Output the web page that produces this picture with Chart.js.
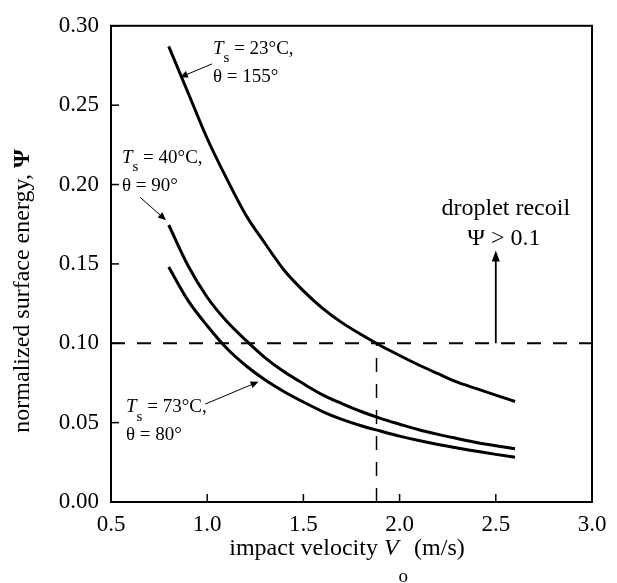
<!DOCTYPE html>
<html>
<head>
<meta charset="utf-8">
<script src="https://cdn.jsdelivr.net/npm/chart.js@4"></script>
<style>
  html, body { margin: 0; padding: 0; background: #fff; }
  #wrap { width: 617px; height: 583px; }
</style>
</head>
<body>
<div id="wrap"><canvas id="chart" width="617" height="583"></canvas></div>
<script>
// impact velocity V_o (m/s)
const velocity = [0.8, 0.9, 1.0, 1.1, 1.2, 1.3, 1.4, 1.5, 1.6, 1.7, 1.8, 1.9, 2.0, 2.1, 2.2, 2.3, 2.4, 2.5, 2.6];
// normalized surface energy for each surface
const psi23 = [0.287, 0.258, 0.229, 0.204, 0.181, 0.163, 0.146, 0.133, 0.122, 0.113, 0.1055, 0.0986, 0.0923, 0.0863, 0.0808, 0.0755, 0.0714, 0.0673, 0.0633];
const psi40 = [0.1745, 0.149, 0.129, 0.114, 0.102, 0.091, 0.082, 0.0745, 0.0675, 0.062, 0.057, 0.0527, 0.049, 0.0455, 0.0426, 0.040, 0.0375, 0.0354, 0.0335];
const psi73 = [0.148, 0.127, 0.111, 0.097, 0.086, 0.077, 0.0695, 0.063, 0.057, 0.052, 0.048, 0.0447, 0.0415, 0.0387, 0.0362, 0.034, 0.032, 0.030, 0.0282];
// recoil threshold and velocity where the 23°C curve crosses it
const thresholdPsi = 0.1;
const criticalVelocity = 1.88;
const xRange = [0.5, 3.0];
const yRange = [0, 0.3];

const serif = '"Liberation Serif", "DejaVu Serif", serif';

// text with italic / subscript / bold parts
function richText(ctx, parts, x, y, size, align, subShift) {
  const shift = subShift || 0.5;
  const fontFor = p => {
    const s = p.sub ? Math.round(size * 0.8) : size;
    return (p.i ? 'italic ' : '') + (p.b ? 'bold ' : '') + s + 'px ' + serif;
  };
  let w = 0;
  parts.forEach(p => { ctx.font = fontFor(p); w += ctx.measureText(p.t).width; });
  let cx = align === 'center' ? x - w / 2 : x;
  ctx.textBaseline = 'middle';
  ctx.textAlign = 'left';
  parts.forEach(p => {
    ctx.font = fontFor(p);
    ctx.fillText(p.t, cx, p.sub ? y + size * shift : y);
    cx += ctx.measureText(p.t).width;
  });
}

function arrow(ctx, x1, y1, x2, y2, len, half, width) {
  const a = Math.atan2(y2 - y1, x2 - x1);
  ctx.lineWidth = width;
  ctx.beginPath();
  ctx.moveTo(x1, y1);
  ctx.lineTo(x2 - Math.cos(a) * len * 0.8, y2 - Math.sin(a) * len * 0.8);
  ctx.stroke();
  ctx.beginPath();
  ctx.moveTo(x2, y2);
  ctx.lineTo(x2 - Math.cos(a) * len - Math.sin(a) * half, y2 - Math.sin(a) * len + Math.cos(a) * half);
  ctx.lineTo(x2 - Math.cos(a) * len + Math.sin(a) * half, y2 - Math.sin(a) * len - Math.cos(a) * half);
  ctx.closePath();
  ctx.fill();
}

const decorations = {
  id: 'decorations',
  afterDatasetsDraw(chart) {
    const { ctx, chartArea: ca, scales: { x, y } } = chart;
    const px = v => x.getPixelForValue(v);
    const py = v => y.getPixelForValue(v);
    ctx.save();
    ctx.strokeStyle = '#000';
    ctx.fillStyle = '#000';

    // ram och inåtriktade ticks
    ctx.lineWidth = 2;
    ctx.strokeRect(ca.left, ca.top, ca.right - ca.left, ca.bottom - ca.top);
    ctx.lineWidth = 1.5;
    x.ticks.forEach(t => {
      const p = px(t.value);
      ctx.beginPath(); ctx.moveTo(p, ca.bottom); ctx.lineTo(p, ca.bottom - 8); ctx.stroke();
    });
    y.ticks.forEach(t => {
      const p = py(t.value);
      ctx.beginPath(); ctx.moveTo(ca.left, p); ctx.lineTo(ca.left + 8, p); ctx.stroke();
    });

    // recoil arrow
    arrow(ctx, px(2.5), py(thresholdPsi), px(2.5), py(0.1585), 11, 4, 1.8);
    richText(ctx, [{ t: 'droplet recoil' }], px(2.552), py(0.1846), 24, 'center');
    richText(ctx, [{ t: 'Ψ > 0.1' }], px(2.542), py(0.1658), 24, 'center');

    // curve labels
    richText(ctx, [{ t: 'T', i: true }, { t: 's', sub: true }, { t: ' = 23°C,' }], px(1.03), py(0.2856), 19, 'left');
    richText(ctx, [{ t: 'θ = 155°' }], px(1.03), py(0.268), 19, 'left');
    arrow(ctx, px(1.025), py(0.276), px(0.858), py(0.2675), 8, 3.5, 1);

    richText(ctx, [{ t: 'T', i: true }, { t: 's', sub: true }, { t: ' = 40°C,' }], px(0.557), py(0.217), 19, 'left');
    richText(ctx, [{ t: 'θ = 90°' }], px(0.557), py(0.199), 19, 'left');
    arrow(ctx, px(0.651), py(0.192), px(0.786), py(0.1775), 8, 3.5, 1);

    richText(ctx, [{ t: 'T', i: true }, { t: 's', sub: true }, { t: ' = 73°C,' }], px(0.578), py(0.0596), 19, 'left');
    richText(ctx, [{ t: 'θ = 80°' }], px(0.578), py(0.042), 19, 'left');
    arrow(ctx, px(0.99), py(0.0617), px(1.267), py(0.0758), 8, 3.5, 1);

    // axeltitlar
    richText(ctx, [{ t: 'impact velocity ' }, { t: 'V', i: true }, { t: 'o', sub: true }, { t: ' (m/s)' }], 347, 549, 24, 'center', 1.15);
    ctx.translate(23, 291);
    ctx.rotate(-Math.PI / 2);
    richText(ctx, [{ t: 'normalized surface energy, ' }, { t: 'Ψ', b: true }], 0, 0, 24, 'center');
    ctx.restore();
  }
};

const curve = (vals) => velocity.map((v, i) => ({ x: v, y: vals[i] }));
const solid = { borderColor: '#000', borderWidth: 3, pointRadius: 0, cubicInterpolationMode: 'monotone', fill: false };
const dashed = { borderColor: '#000', borderWidth: 2, pointRadius: 0, borderDash: [14, 12], fill: false };

new Chart(document.getElementById('chart'), {
  type: 'line',
  data: {
    datasets: [
      { ...solid, label: 'Ts = 23°C, θ = 155°', data: curve(psi23) },
      { ...solid, label: 'Ts = 40°C, θ = 90°', data: curve(psi40) },
      { ...solid, label: 'Ts = 73°C, θ = 80°', data: curve(psi73) },
      { ...dashed, label: 'threshold', data: [{ x: xRange[0], y: thresholdPsi }, { x: xRange[1], y: thresholdPsi }] },
      { ...dashed, borderWidth: 1.5, label: 'critical', data: [{ x: criticalVelocity, y: yRange[0] }, { x: criticalVelocity, y: thresholdPsi }] }
    ]
  },
  options: {
    responsive: false,
    animation: false,
    layout: { padding: { top: 22, right: 25, left: 0, bottom: 0 } },
    plugins: { legend: { display: false }, tooltip: { enabled: false } },
    scales: {
      x: {
        type: 'linear', min: xRange[0], max: xRange[1],
        grid: { display: false, drawTicks: false },
        border: { display: false },
        ticks: { stepSize: 0.5, padding: 9, color: '#000', font: { family: serif, size: 23 }, callback: v => v.toFixed(1) },
        afterFit: s => { s.height = 81; }
      },
      y: {
        type: 'linear', min: yRange[0], max: yRange[1],
        grid: { display: false, drawTicks: false },
        border: { display: false },
        ticks: { stepSize: 0.05, padding: 12, color: '#000', font: { family: serif, size: 23 }, callback: v => v.toFixed(2) },
        afterFit: s => { s.width = 111; }
      }
    }
  },
  plugins: [decorations]
});
</script>
</body>
</html>
